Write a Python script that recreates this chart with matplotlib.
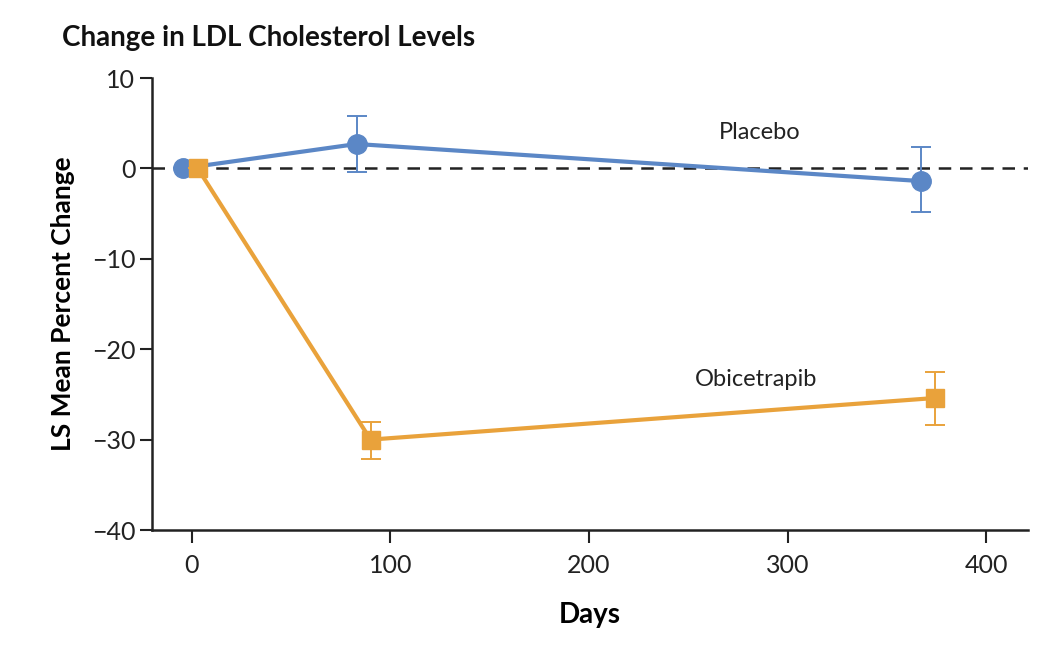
import matplotlib
matplotlib.use("Agg")
from matplotlib import pyplot as plt

# values
placebo_days = [-4.5, 83, 367]
placebo_change = [0, 2.7, -1.4]
placebo_err_low = [0, 3.1, 3.4]
placebo_err_high = [0, 3.1, 3.8]

obi_days = [3, 90, 374]
obi_change = [0, -30.0, -25.4]
obi_err_low = [0, 2.2, 3.0]
obi_err_high = [0, 2.0, 2.9]

x_ticks = [0, 100, 200, 300, 400]
y_ticks = [10, 0, -10, -20, -30, -40]

blue = "#5b87c6"
orange = "#e9a23b"

plt.rcParams['font.family'] = ['Lato', 'DejaVu Sans']

fig = plt.figure(figsize=(10.64, 6.64), dpi=100)
ax = fig.add_axes([0.1429, 0.2018, 0.8233, 0.6807])

ax.axhline(0, color="#222222", linestyle=(0, (5, 3.5)), linewidth=1.8, zorder=1)

ax.errorbar(placebo_days, placebo_change, yerr=[placebo_err_low, placebo_err_high],
            color=blue, linewidth=3, marker="o", markersize=14,
            ecolor=blue, elinewidth=1.4, capsize=7.5, capthick=1.4, zorder=3)
ax.errorbar(obi_days, obi_change, yerr=[obi_err_low, obi_err_high],
            color=orange, linewidth=3, marker="s", markersize=12.5,
            ecolor=orange, elinewidth=1.4, capsize=7.5, capthick=1.4, zorder=4)

ax.text(286, 4.0, "Placebo", fontsize=17, ha="center", va="center", color="#222222")
ax.text(284, -23.3, "Obicetrapib", fontsize=17, ha="center", va="center", color="#222222")

ax.set_xlim(-20, 421)
ax.set_ylim(-40, 10)
ax.set_xticks(x_ticks)
ax.set_yticks(y_ticks)
ax.set_yticklabels([str(v).replace("-", "\u2212") for v in y_ticks])

for s in ["top", "right"]:
    ax.spines[s].set_visible(False)
for s in ["left", "bottom"]:
    ax.spines[s].set_linewidth(1.8)
    ax.spines[s].set_color("#222222")

ax.tick_params(axis="both", length=9, width=1.5, labelsize=18, colors="#222222", pad=3)
ax.tick_params(axis="x", pad=8)

ax.set_xlabel("Days", fontsize=20, fontweight="bold", labelpad=18)
ax.set_ylabel("LS Mean Percent Change", fontsize=19, fontweight="bold", labelpad=12)

fig.text(0.058, 0.943, "Change in LDL Cholesterol Levels", fontsize=20,
         fontweight="bold", ha="left", va="center", color="#111111")

plt.savefig("out.png", dpi=100)
